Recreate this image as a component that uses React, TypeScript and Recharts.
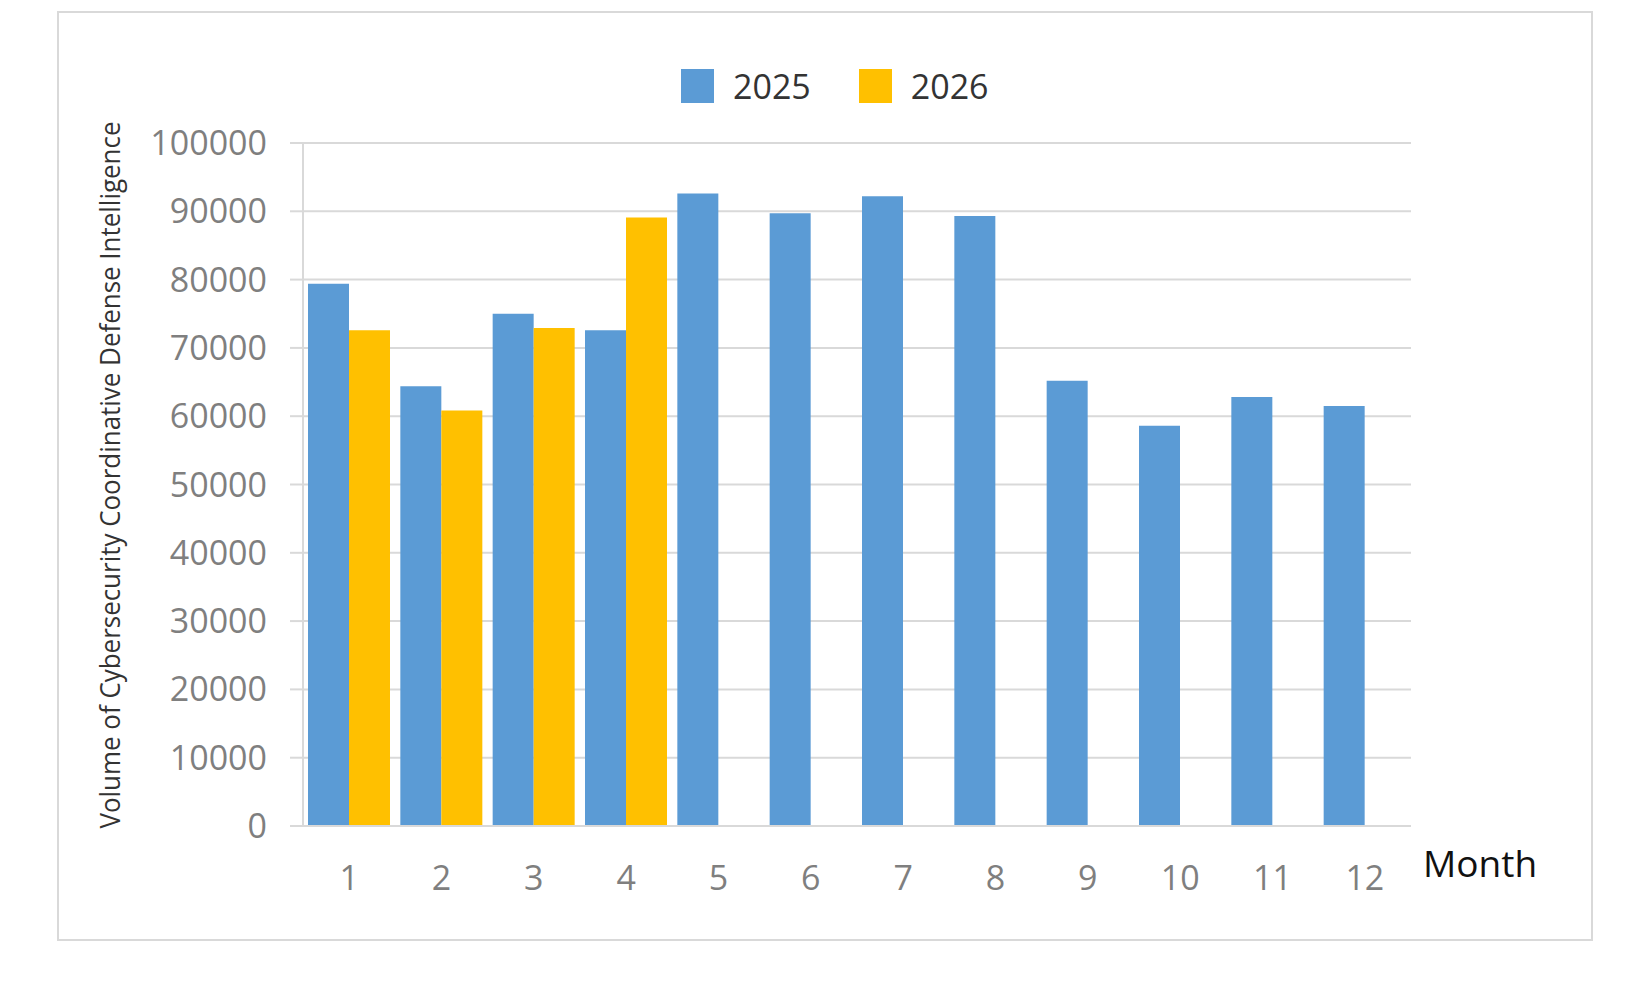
import React from 'react';
import { BarChart, Bar, XAxis, YAxis, CartesianGrid, Legend, Label } from 'recharts';

const months = ['1', '2', '3', '4', '5', '6', '7', '8', '9', '10', '11', '12'];
const values2025 = [79400, 64400, 75000, 72600, 92600, 89700, 92200, 89300, 65200, 58600, 62800, 61500];
const values2026 = [72600, 60850, 72900, 89100, null, null, null, null, null, null, null, null];
const yTicks = [0, 10000, 20000, 30000, 40000, 50000, 60000, 70000, 80000, 90000, 100000];
const seriesNames = ['2025', '2026'];
const seriesColors = ['#5B9BD5', '#FFC000'];

const data = months.map((m, i) => ({ month: m, y2025: values2025[i], y2026: values2026[i] }));

const FONT = '"Open Sans", "Noto Sans", sans-serif';
const GRID = '#d9d9d9';

const tickStyle = { fontSize: 34, fill: '#7f7f7f', fontFamily: FONT };

function LegendContent() {
  return (
    <div
      style={{
        height: 83,
        boxSizing: 'border-box',
        paddingTop: 9,
        paddingLeft: 681,
        display: 'flex',
        alignItems: 'flex-start',
        fontFamily: FONT,
      }}
    >
      {seriesNames.map((name, i) => (
        <div key={name} style={{ display: 'flex', alignItems: 'center', marginRight: 48 }}>
          <div style={{ width: 33, height: 34, background: seriesColors[i], marginRight: 19 }} />
          <span style={{ fontSize: 34, lineHeight: '34px', color: '#333' }}>{name}</span>
        </div>
      ))}
    </div>
  );
}

const YTitle = () => (
  <text
    x={120}
    y={475}
    transform="rotate(-90, 120, 475)"
    textAnchor="middle"
    fontSize={28}
    fontFamily={FONT}
    fill="#333"
    textLength={707}
    lengthAdjust="spacingAndGlyphs"
  >
    Volume of Cybersecurity Coordinative Defense Intelligence
  </text>
);

const MonthTitle = () => (
  <text x={1423} y={877} fontSize={37} fontFamily={FONT} fill="#111">
    Month
  </text>
);

export default function App() {
  return (
    <div style={{ position: 'fixed', left: 0, top: 0, width: 1625, height: 984, background: '#fff' }}>
      <div
        style={{
          position: 'absolute',
          left: 57,
          top: 11,
          width: 1536,
          height: 930,
          boxSizing: 'border-box',
          border: `2px solid ${GRID}`,
        }}
      />
      <div style={{ position: 'absolute', left: 0, top: 0 }}>
        <BarChart
          width={1625}
          height={984}
          data={data}
          margin={{ top: 60, right: 214, left: 0, bottom: 78 }}
          barCategoryGap={5}
          barGap={0}
        >
          <CartesianGrid vertical={false} stroke={GRID} strokeWidth={2} />
          <Legend
            verticalAlign="top"
            align="left"
            content={<LegendContent />}
            wrapperStyle={{ left: 0, top: 60, width: 1625 }}
          />
          <XAxis
            dataKey="month"
            height={80}
            tick={tickStyle}
            tickLine={false}
            tickSize={0}
            tickMargin={40}
            axisLine={{ stroke: GRID, strokeWidth: 2 }}
          >
            <Label content={<MonthTitle />} />
          </XAxis>
          <YAxis
            width={303}
            domain={[0, 100000]}
            ticks={yTicks}
            interval={0}
            tick={tickStyle}
            tickSize={13}
            tickMargin={23}
            tickLine={{ stroke: GRID, strokeWidth: 2 }}
            axisLine={{ stroke: GRID, strokeWidth: 2 }}
          >
            <Label content={<YTitle />} />
          </YAxis>
          <Bar dataKey="y2025" name={seriesNames[0]} fill={seriesColors[0]} isAnimationActive={false} />
          <Bar dataKey="y2026" name={seriesNames[1]} fill={seriesColors[1]} isAnimationActive={false} />
        </BarChart>
      </div>
    </div>
  );
}
